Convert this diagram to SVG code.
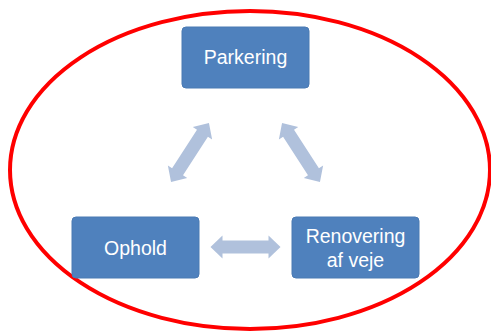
<svg xmlns="http://www.w3.org/2000/svg" width="491" height="331" viewBox="0 0 491 331">
<defs>
<style>
.box{fill:#4F81BD;stroke:#4A7AB3;stroke-width:1}
.lbl{font-family:"Liberation Sans",Arial,sans-serif;font-size:19.5px;fill:#FFFFFF;text-anchor:middle}
.arr{fill:#B0C1DC}
</style>
<path id="dbl" d="M-35,0 L-23,-11.5 L-23,-6.5 L23,-6.5 L23,-11.5 L35,0 L23,11.5 L23,6.5 L-23,6.5 L-23,11.5 Z"/>
</defs>
<rect width="491" height="331" fill="#FFFFFF"/>
<ellipse cx="250" cy="170" rx="240" ry="159" fill="none" stroke="#FF0000" stroke-width="4"/>
<g id="connectors">
<use href="#dbl" class="arr" transform="translate(190,152.5) rotate(-57.2)"/>
<use href="#dbl" class="arr" transform="translate(301,152.5) rotate(57.2)"/>
<use href="#dbl" class="arr" transform="translate(245.5,247)"/>
</g>
<g id="parkering">
<rect class="box" x="182" y="27" width="127" height="61" rx="4"/>
<text class="lbl" x="245.5" y="63.5">Parkering</text>
</g>
<g id="ophold">
<rect class="box" x="72" y="217" width="127" height="61" rx="4"/>
<text class="lbl" x="135.5" y="254.5">Ophold</text>
</g>
<g id="renovering">
<rect class="box" x="292" y="217" width="127" height="61" rx="4"/>
<text class="lbl" x="355.5" y="242.5">Renovering</text>
<text class="lbl" x="355.5" y="266.5">af veje</text>
</g>
</svg>
